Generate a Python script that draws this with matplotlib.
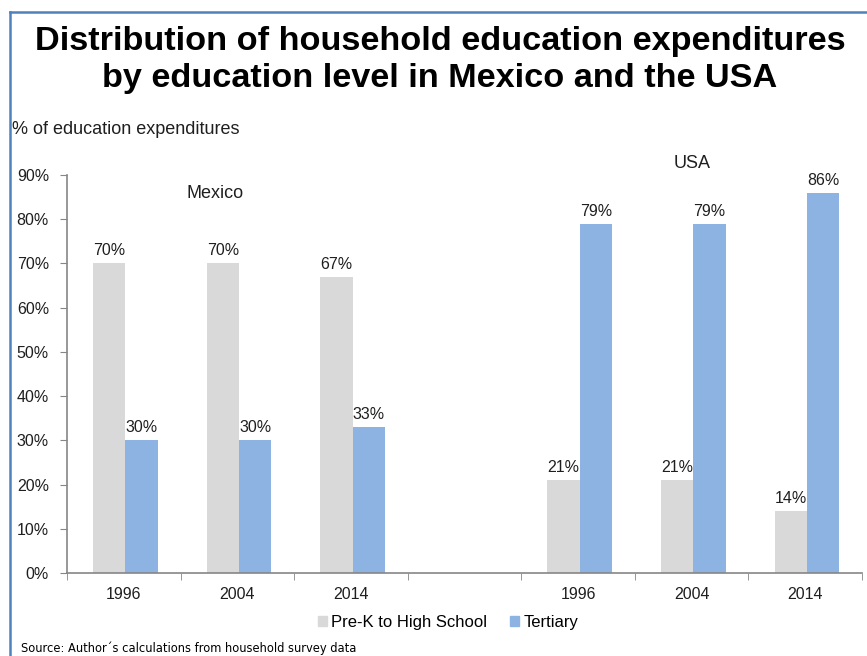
import matplotlib.pyplot as plt
import numpy as np
from matplotlib.lines import Line2D
from matplotlib.patches import Patch

# Valeurs (% des dépenses d'éducation des ménages)
years = ['1996', '2004', '2014', '', '1996', '2004', '2014']
prek_mexico = [70, 70, 67]
tertiary_mexico = [30, 30, 33]
prek_usa = [21, 21, 14]
tertiary_usa = [79, 79, 86]
yticks = [0, 10, 20, 30, 40, 50, 60, 70, 80, 90]

gray = '#d9d9d9'
blue = '#8db3e2'
txt = '#1f1f1f'
plt.rcParams['font.family'] = ['Liberation Sans', 'DejaVu Sans']

fig = plt.figure(figsize=(8.67, 6.56), dpi=100)
ax = fig.add_axes([67 / 867, 1 - 573 / 656, 795 / 867, 398 / 656])

# positions des groupes : Mexique 0-2, vide en 3, USA 4-6
pos_mex = np.array([0, 1, 2])
pos_usa = np.array([4, 5, 6])
w = 0.285

prek = prek_mexico + prek_usa
tert = tertiary_mexico + tertiary_usa
pos = np.concatenate([pos_mex, pos_usa]) + 0.015

b1 = ax.bar(pos - w / 2, prek, w, color=gray, label='Pre-K to High School')
b2 = ax.bar(pos + w / 2, tert, w, color=blue, label='Tertiary')

for bars, vals in ((b1, prek), (b2, tert)):
    for r, v in zip(bars, vals):
        ax.text(r.get_x() + r.get_width() / 2, v + 1.8, f'{v}%',
                ha='center', va='baseline', fontsize=11.5, color=txt)

ax.set_xlim(-0.5, 6.5)
ax.set_ylim(0, 90)
ax.set_yticks(yticks)
ax.set_yticklabels([f'{t}%' for t in yticks])
ax.set_xticks(range(7))
ax.set_xticklabels(years)
ax.set_xticks(np.arange(-0.5, 7, 1), minor=True)
ax.tick_params(axis='x', which='major', length=0, pad=10, labelsize=11.5, colors=txt)
ax.tick_params(axis='x', which='minor', length=5, color='#868686', direction='out')
ax.tick_params(axis='y', length=5, color='#868686', labelsize=11.5, colors=txt, pad=8)
for s in ('top', 'right'):
    ax.spines[s].set_visible(False)
for s in ('left', 'bottom'):
    ax.spines[s].set_color('#868686')
    ax.spines[s].set_linewidth(1.2)

ax.text(0.80, 85.9, 'Mexico', ha='center', va='center', fontsize=13, color=txt)
ax.text(5.0, 92.7, 'USA', ha='center', va='center', fontsize=13, color=txt,
        clip_on=False)

# titre
fig.text(440 / 867, 1 - 50 / 656, 'Distribution of household education expenditures',
         ha='center', va='baseline', fontsize=24.7, fontweight='bold', color='black')
fig.text(440 / 867, 1 - 87 / 656, 'by education level in Mexico and the USA',
         ha='center', va='baseline', fontsize=24.7, fontweight='bold', color='black')

fig.text(12 / 867, 1 - 130 / 656, '% of education expenditures',
         ha='left', va='center', fontsize=13, color=txt)

handles = [Patch(color=gray), Patch(color=blue)]
fig.legend(handles, ['Pre-K to High School', 'Tertiary'], ncol=2,
           loc='center', bbox_to_anchor=(448 / 867, 1 - 622 / 656),
           frameon=False, handlelength=0.55, handleheight=0.55,
           handletextpad=0.25, columnspacing=1.4, fontsize=12)

fig.text(21 / 867, 1 - 648 / 656,
         'Source: Author\u00b4s calculations from household survey data',
         ha='left', va='center', fontsize=8.3, color='black', family='DejaVu Sans')

# cadre bleu
fig.add_artist(Line2D([10 / 867, 1], [1 - 12 / 656] * 2, color='#4f81bd', lw=1.8))
fig.add_artist(Line2D([10 / 867] * 2, [0, 1 - 12 / 656], color='#4f81bd', lw=1.8))

fig.savefig('out.png', dpi=100)
